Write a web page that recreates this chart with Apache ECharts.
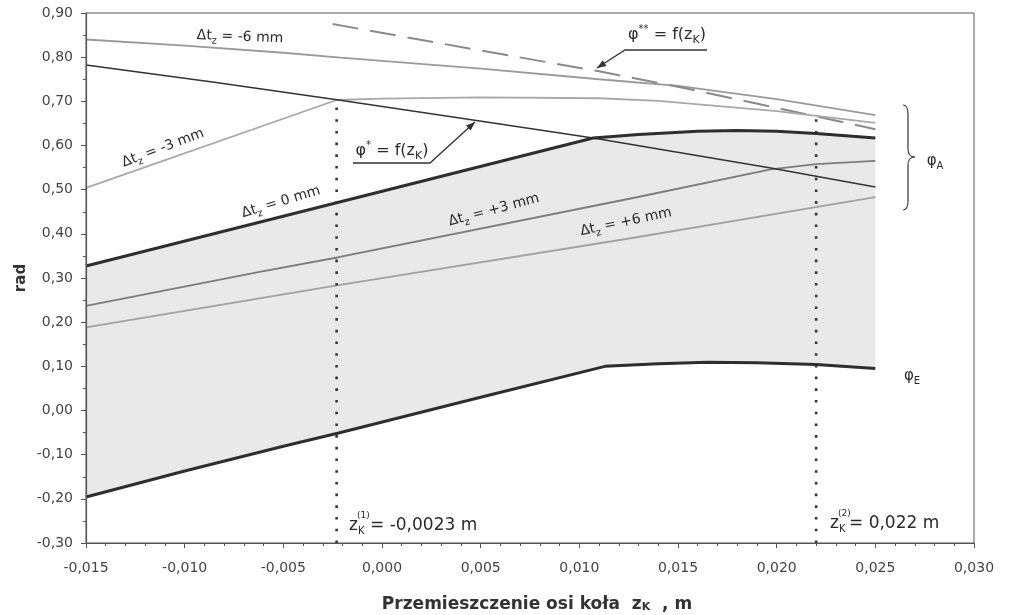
<!DOCTYPE html>
<html><head><meta charset="utf-8">
<script src="https://cdn.jsdelivr.net/npm/echarts@6/dist/echarts.min.js"></script>
<style>html,body{margin:0;padding:0;background:#fff}#c{width:1009px;height:615px}</style>
</head><body><div id="c"></div>
<script>
// axis ranges / ticks
const xMin = -0.015, xMax = 0.030, xStep = 0.005;
const yMin = -0.30, yMax = 0.90, yStep = 0.10;

// series values [z_K, rad]
const phiStar  = [[-0.015,0.782],[-0.0085,0.743],[-0.0022,0.703],[0.0047,0.657],[0.0107,0.617],[0.0197,0.549],[0.025,0.506]];
const phiStar2 = [[-0.0025,0.875],[0.005,0.815],[0.011,0.768],[0.015,0.733],[0.020,0.685],[0.025,0.637]];
const dtM6 = [[-0.015,0.840],[-0.010,0.826],[-0.005,0.810],[-0.0021,0.799],[0.005,0.774],[0.011,0.750],[0.015,0.735],[0.020,0.705],[0.025,0.669]];
const dtM3 = [[-0.015,0.504],[-0.0023,0.703],[0.000,0.706],[0.005,0.709],[0.011,0.707],[0.014,0.701],[0.020,0.678],[0.025,0.651]];
const dt0  = [[-0.015,0.327],[0.0107,0.617],[0.013,0.625],[0.016,0.632],[0.018,0.634],[0.020,0.632],[0.022,0.627],[0.025,0.617]];
const dtP3 = [[-0.015,0.237],[-0.0062,0.314],[-0.0022,0.347],[0.0126,0.480],[0.0197,0.546],[0.022,0.558],[0.025,0.565]];
const dtP6 = [[-0.015,0.188],[-0.0022,0.284],[0.0126,0.390],[0.025,0.483]];
const phiE = [[-0.015,-0.196],[-0.010,-0.137],[-0.005,-0.081],[-0.0022,-0.051],[0.005,0.030],[0.0113,0.100],[0.014,0.106],[0.0165,0.109],[0.019,0.108],[0.022,0.104],[0.025,0.095]];
const zK1 = -0.0023, zK1Top = 0.703;
const zK2 = 0.022,   zK2Top = 0.665;

const FF = 'DejaVu Sans';
const TC = '#2a2a2a';

function T(x, y, text, size, rot, extra) {
  const s = Math.round(size * 0.68), p = Math.round(size * 0.62);
  return { type: 'text', x: x, y: y, rotation: rot || 0, z: 50,
    style: Object.assign({ text: text, fill: TC, fontFamily: FF, fontSize: size,
      align: 'center', verticalAlign: 'middle', lineHeight: size + 6,
      rich: {
        s: { fontSize: s, fontFamily: FF, fill: TC, verticalAlign: 'bottom', lineHeight: s },
        p: { fontSize: p, fontFamily: FF, fill: TC, verticalAlign: 'top', lineHeight: p }
      } }, extra || {}) };
}
function line(pts, w) { return { type: 'polyline', z: 50, shape: { points: pts }, style: { stroke: '#333', lineWidth: w || 1.2, fill: null } }; }
function head(pts) { return { type: 'polygon', z: 50, shape: { points: pts }, style: { fill: '#333' } }; }
function qc(x1, y1, cx, cy, x2, y2) { return { type: 'bezierCurve', z: 50, shape: { x1: x1, y1: y1, cpx1: cx, cpy1: cy, x2: x2, y2: y2 }, style: { stroke: '#444', lineWidth: 1.2, fill: null } }; }

const fmt = (d) => (v) => (Math.abs(v) < 1e-9 ? 0 : v).toFixed(d).replace('.', ',');

function lineSeries(name, data, color, width, type, z) {
  return { name: name, type: 'line', data: data, showSymbol: false, symbol: 'none', z: z || 4,
    lineStyle: { color: color, width: width, type: type || 'solid' }, silent: true };
}

const chart = echarts.init(document.getElementById('c'), null, { renderer: 'canvas' });
chart.setOption({
  animation: false,
  backgroundColor: '#fff',
  grid: { left: 86, right: 35, top: 13, bottom: 72, outerBoundsMode: 'none', containLabel: false,
    show: true, borderColor: '#555', borderWidth: 1, backgroundColor: 'transparent' },
  xAxis: {
    type: 'value', min: xMin, max: xMax, interval: xStep, z: 6,
    splitLine: { show: false },
    axisLine: { onZero: false, lineStyle: { color: '#555', width: 1.2 } },
    axisTick: { show: true, inside: false, length: 5, lineStyle: { color: '#555' } },
    minorTick: { show: true, splitNumber: 5, length: 3, lineStyle: { color: '#555' } },
    axisLabel: { margin: 18, fontFamily: FF, fontSize: 14, color: '#444', formatter: fmt(3) },
    name: 'Przemieszczenie osi koła  z{k|K}  , m', nameLocation: 'middle', nameGap: 53, nameMoveOverlap: false,
    nameTextStyle: { fontFamily: FF, fontWeight: 'bold', fontSize: 17, color: '#333', padding: [0, 0, 0, 14],
      rich: { k: { fontFamily: FF, fontWeight: 'bold', fontSize: 11, color: '#333', verticalAlign: 'bottom', lineHeight: 11 } } }
  },
  yAxis: {
    type: 'value', min: yMin, max: yMax, interval: yStep, z: 6,
    splitLine: { show: false },
    axisLine: { onZero: false, lineStyle: { color: '#555', width: 1.2 } },
    axisTick: { show: true, inside: false, length: 5, lineStyle: { color: '#555' } },
    minorTick: { show: true, splitNumber: 2, length: 3, lineStyle: { color: '#555' } },
    axisLabel: { margin: 13, fontFamily: FF, fontSize: 14, color: '#444', formatter: fmt(2) },
    name: 'rad', nameLocation: 'middle', nameGap: 57, nameMoveOverlap: false,
    nameTextStyle: { fontFamily: FF, fontWeight: 'bold', fontSize: 15, color: '#333' }
  },
  series: [
    { name: 'zone', type: 'custom', z: 1, silent: true, clip: true,
      data: [[xMin, yMin]],
      renderItem: function (params, api) {
        const upper = dt0.map(function (p) { return api.coord(p); });
        const lower = phiE.slice().reverse().map(function (p) { return api.coord(p); });
        return { type: 'polygon', shape: { points: upper.concat(lower) }, style: { fill: '#e9e9e9', stroke: null } };
      } },
    lineSeries('dt-6', dtM6, '#9a9a9a', 1.8),
    lineSeries('phi**', phiStar2, '#8a8a8a', 2, [26, 12]),
    lineSeries('dt-3', dtM3, '#a8a8a8', 1.8),
    lineSeries('dt+6', dtP6, '#a2a2a2', 1.8),
    lineSeries('dt+3', dtP3, '#7c7c7c', 1.8),
    lineSeries('phi*', phiStar, '#333', 1.5),
    lineSeries('dt0', dt0, '#2e2e2e', 3),
    lineSeries('phiE', phiE, '#2e2e2e', 3),
    { name: 'z1', type: 'line', data: [[zK1, yMin], [zK1, zK1Top]], showSymbol: false, symbol: 'none', z: 5, silent: true,
      lineStyle: { color: '#333', width: 2.6, type: [2.6, 9.1] } },
    { name: 'z2', type: 'line', data: [[zK2, yMin], [zK2, zK2Top]], showSymbol: false, symbol: 'none', z: 5, silent: true,
      lineStyle: { color: '#333', width: 2.6, type: [2.6, 9.1] } }
  ],
  graphic: [
    T(240, 37, 'Δt{s|z} = -6 mm', 14, -0.04),
    T(163, 148, 'Δt{s|z} = -3 mm', 14, 0.36),
    T(281, 202, 'Δt{s|z} = 0 mm', 14, 0.29),
    T(494, 210, 'Δt{s|z} = +3 mm', 14, 0.26),
    T(626, 222, 'Δt{s|z} = +6 mm', 14, 0.21),
    T(392, 151, 'φ{p|*} = f(z{s|K})', 16, 0),
    line([[353, 163], [430, 163], [475, 122]], 1.3),
    head([[475, 122], [470.7, 130.6], [466.0, 125.5]]),
    T(667, 35, 'φ{p|**} = f(z{s|K})', 16, 0),
    line([[707, 50], [625, 50], [597, 68]], 1.3),
    head([[597, 68], [606.5, 66.0], [602.7, 60.2]]),
    qc(903, 105, 908, 105, 908, 114), line([[908, 114], [908, 149]], 1.2),
    qc(908, 149, 908, 157, 915, 157), qc(915, 157, 908, 157, 908, 165),
    line([[908, 165], [908, 201]], 1.2), qc(908, 201, 908, 210, 903, 210),
    T(935, 161, 'φ{s|A}', 15, 0),
    T(912, 376, 'φ{s|E}', 15, 0),
    T(349, 526, 'z', 17, 0, { align: 'left' }),
    T(358, 531, 'K', 10, 0, { align: 'left' }),
    T(357, 516, '(1)', 9, 0, { align: 'left' }),
    T(370, 526, '= -0,0023 m', 17, 0, { align: 'left' }),
    T(830, 524, 'z', 17, 0, { align: 'left' }),
    T(839, 529, 'K', 10, 0, { align: 'left' }),
    T(838, 514, '(2)', 9, 0, { align: 'left' }),
    T(849, 524, '= 0,022 m', 17, 0, { align: 'left' })
  ]
});
</script>
</body></html>
